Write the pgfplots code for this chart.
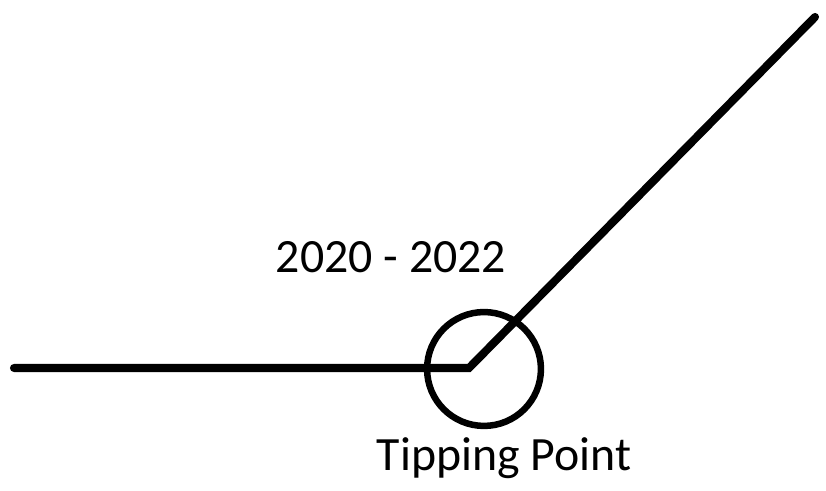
\documentclass[border=0pt]{standalone}
\usepackage{pgfplots}
\pgfplotsset{compat=1.18}
\usepackage{fontspec}
\setmainfont{Carlito}

\begin{document}
\begin{tikzpicture}
  % canvas in image pixels (y up), 1px = 0.01cm
  \begin{axis}[
      scale only axis,
      width=8.26cm, height=4.82cm,
      xmin=0, xmax=826, ymin=0, ymax=482,
      hide axis, clip=false,
    ]
    % invisible corners so the page keeps the full canvas
    \addplot[draw=none, mark=none] coordinates {(0,0) (826,482)};
    % trend: flat, then rising after the tipping point
    \addplot[black, line width=2.3pt, line cap=round, line join=miter, mark=none]
      coordinates {(14,114) (469,114) (815,465)};
    % tipping point ring
    \addplot[only marks, mark=o, mark size=16.2pt,
             mark options={line width=1.85pt, black}]
      coordinates {(484,113)};
    \node[anchor=base, font=\fontsize{13.6}{16}\selectfont] at (axis cs:391,209) {2020 - 2022};
    \node[anchor=base, font=\fontsize{13.6}{16}\selectfont] at (axis cs:504,11) {Tipping Point};
  \end{axis}
\end{tikzpicture}
\end{document}
